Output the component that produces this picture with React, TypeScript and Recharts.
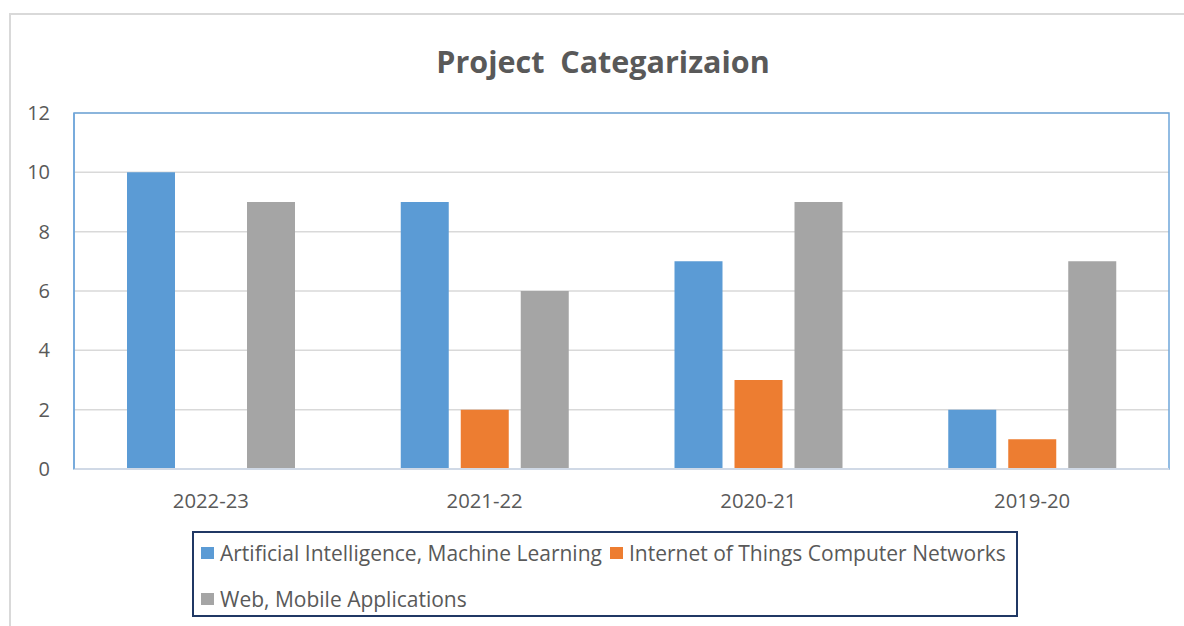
import React from "react";
import {
  BarChart,
  Bar,
  XAxis,
  YAxis,
  CartesianGrid,
  ReferenceArea,
} from "recharts";

const categories = ["2022-23", "2021-22", "2020-21", "2019-20"];
const aiMl = [10, 9, 7, 2];
const iotNet = [0, 2, 3, 1];
const webMobile = [9, 6, 9, 7];
const yTicks = [0, 2, 4, 6, 8, 10, 12];

const series = [
  { key: "ai", name: "Artificial Intelligence, Machine Learning", color: "#5B9BD5", values: aiMl },
  { key: "iot", name: "Internet of Things Computer Networks", color: "#ED7D31", values: iotNet },
  { key: "web", name: "Web, Mobile Applications", color: "#A5A5A5", values: webMobile },
];

const data = categories.map((c, i) => {
  const row: Record<string, string | number> = { cat: c };
  series.forEach((s) => {
    row[s.key] = s.values[i];
  });
  return row;
});

const FONT = "'Open Sans', 'Noto Sans', sans-serif";
const TEXT = "#595959";

export default function App() {
  return (
    <div
      style={{
        position: "absolute",
        left: 0,
        top: 0,
        width: 1184,
        height: 626,
        overflow: "hidden",
        background: "#fff",
        fontFamily: FONT,
      }}
    >
      <div
        style={{
          position: "absolute",
          left: 9,
          top: 13,
          width: 1300,
          height: 800,
          border: "2px solid #D9D9D9",
          boxSizing: "border-box",
        }}
      />
      <div
        style={{
          position: "absolute",
          left: 0,
          top: 39,
          width: 1206,
          textAlign: "center",
          fontSize: 30.5,
          fontWeight: 700,
          color: TEXT,
          whiteSpace: "pre",
          lineHeight: "44px",
        }}
      >
        {"Project  Categarizaion"}
      </div>
      <div style={{ position: "absolute", left: 0, top: 0 }}>
        <BarChart
          width={1184}
          height={626}
          data={data}
          margin={{ top: 113, right: 15, bottom: 117, left: 0 }}
          barCategoryGap={53}
          barGap={12}
        >
          <CartesianGrid vertical={false} stroke="#D9D9D9" strokeWidth={1.5} />
          <ReferenceArea
            y1={0}
            y2={12}
            fill="none"
            stroke="#6FA6DA"
            strokeWidth={1.5}
            ifOverflow="visible"
          />
          <XAxis
            dataKey="cat"
            height={40}
            tickLine={false}
            tickSize={0}
            tickMargin={25}
            axisLine={{ stroke: "#D0D9E6", strokeWidth: 2 }}
            tick={{ fill: TEXT, fontSize: 20.3, fontFamily: FONT }}
          />
          <YAxis
            width={74}
            domain={[0, 12]}
            ticks={yTicks}
            interval={0}
            tickLine={false}
            tickSize={0}
            tickMargin={24}
            axisLine={{ stroke: "#6FA6DA", strokeWidth: 1.5 }}
            tick={{ fill: TEXT, fontSize: 20, fontFamily: FONT }}
          />
          {series.map((s) => (
            <Bar
              key={s.key}
              dataKey={s.key}
              name={s.name}
              fill={s.color}
              isAnimationActive={false}
            />
          ))}
        </BarChart>
      </div>
      <div
        style={{
          position: "absolute",
          left: 192,
          top: 531,
          width: 826,
          height: 86,
          border: "2px solid #203864",
          boxSizing: "border-box",
          display: "flex",
          flexWrap: "wrap",
          alignContent: "flex-start",
          paddingLeft: 7,
        }}
      >
        {series.map((s, i) => (
          <div
            key={s.key}
            style={{
              display: "flex",
              alignItems: "center",
              height: 46,
              marginTop: i === 0 || i === 1 ? -3 : 0,
              marginRight: 8,
              fontSize: 21,
              color: TEXT,
              whiteSpace: "nowrap",
            }}
          >
            <span
              style={{
                display: "inline-block",
                width: 13,
                height: 12,
                background: s.color,
                marginRight: 6,
              }}
            />
            {s.name}
          </div>
        ))}
      </div>
    </div>
  );
}
